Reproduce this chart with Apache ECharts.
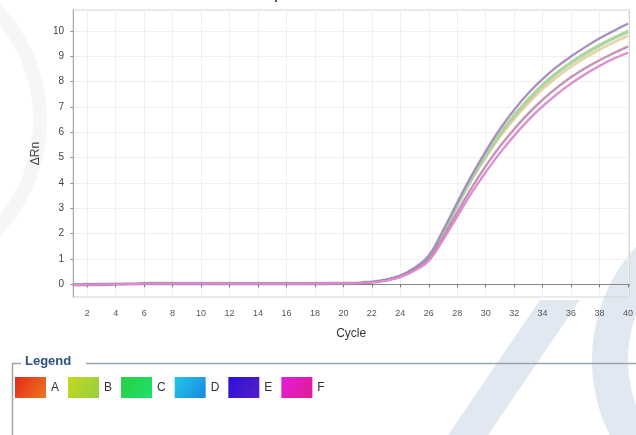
<!DOCTYPE html>
<html>
<head>
<meta charset="utf-8">
<script src="https://cdn.jsdelivr.net/npm/echarts@6/dist/echarts.min.js"></script>
<style>
html,body{margin:0;padding:0;background:#fff;}
#chart{width:636px;height:435px;}
</style>
</head>
<body>
<div id="chart"></div>
<script>
// ---- data ----
var cycles = [];
for (var i = 1; i <= 40; i++) cycles.push(i);
var seriesNames = ['A', 'B', 'C', 'D', 'E', 'F'];
var valuesA = [-0.04,-0.02,0.00,0.01,0.02,0.04,0.04,0.03,0.02,0.02,0.02,0.02,0.02,0.02,0.02,0.02,0.02,0.02,0.03,0.03,
  0.05,0.09,0.17,0.33,0.62,1.08,2.02,3.10,4.12,5.00,5.82,6.52,7.15,7.70,8.17,8.58,8.94,9.26,9.54,9.80];
var valuesB = [-0.02,-0.01,0.00,0.01,0.01,0.02,0.02,0.02,0.02,0.02,0.02,0.02,0.02,0.02,0.02,0.02,0.02,0.02,0.03,0.03,
  0.05,0.09,0.17,0.33,0.63,1.10,2.05,3.15,4.18,5.10,5.95,6.68,7.32,7.88,8.36,8.77,9.13,9.45,9.74,10.00];
var valuesC = [-0.02,-0.01,0.00,0.01,0.01,0.02,0.02,0.02,0.02,0.02,0.02,0.02,0.02,0.02,0.02,0.02,0.02,0.02,0.03,0.03,
  0.05,0.09,0.17,0.32,0.61,1.07,2.00,3.10,4.13,5.06,5.90,6.63,7.27,7.83,8.31,8.72,9.08,9.40,9.69,9.94];
var valuesD = [-0.02,-0.01,0.00,0.01,0.01,0.02,0.02,0.02,0.02,0.02,0.02,0.02,0.02,0.02,0.02,0.02,0.02,0.02,0.03,0.03,
  0.04,0.08,0.16,0.31,0.57,0.98,1.85,2.84,3.80,4.66,5.44,6.12,6.74,7.28,7.75,8.17,8.53,8.84,9.12,9.38];
var valuesE = [-0.02,-0.01,0.00,0.01,0.01,0.02,0.02,0.02,0.02,0.02,0.02,0.02,0.02,0.02,0.02,0.02,0.02,0.02,0.03,0.03,
  0.05,0.09,0.18,0.34,0.65,1.13,2.12,3.22,4.28,5.25,6.12,6.88,7.54,8.10,8.58,8.99,9.36,9.70,10.00,10.28];
var valuesF = [-0.03,-0.02,0.00,0.00,0.01,0.02,0.02,0.03,0.03,0.03,0.03,0.02,0.02,0.02,0.02,0.02,0.02,0.03,0.04,0.04,
  0.04,0.08,0.15,0.29,0.54,0.93,1.75,2.68,3.60,4.42,5.18,5.86,6.48,7.02,7.50,7.92,8.29,8.62,8.90,9.14];
var allValues = [valuesA, valuesB, valuesC, valuesD, valuesE, valuesF];
var xTicks = [2,4,6,8,10,12,14,16,18,20,22,24,26,28,30,32,34,36,38,40];
var yTicks = [0,1,2,3,4,5,6,7,8,9,10];

// ---- styles ----
var lineColors = ['#ecd49a', '#b8e690', '#a6dca4', '#c890b4', '#a88cc0', '#e488d8'];
var legendGrad = [
  ['#e8281c', '#e8781c'],
  ['#c8d81c', '#90d040'],
  ['#28d040', '#20e070'],
  ['#20c8e8', '#1c88e0'],
  ['#2c10d8', '#5420c8'],
  ['#e41ce0', '#e01c90']
];
function grad(c) {
  return { type: 'linear', x: 0, y: 0, x2: 1, y2: 1,
    colorStops: [{ offset: 0, color: c[0] }, { offset: 1, color: c[1] }] };
}

var series = seriesNames.map(function (n, k) {
  return {
    name: n,
    type: 'line',
    smooth: 0.4,
    showSymbol: false,
    data: cycles.map(function (c, j) { return [c, allValues[k][j]]; }),
    lineStyle: { width: 2, color: lineColors[k], shadowColor: 'rgba(90,70,90,0.35)', shadowBlur: 1 },
    itemStyle: { color: lineColors[k] },
    z: 3
  };
});

var FONT = 'Arial, "Liberation Sans", sans-serif';
var chart = echarts.init(document.getElementById('chart'), null, { renderer: 'canvas' });
chart.setOption({
  backgroundColor: '#ffffff',
  animation: false,
  title: {
    text: 'Amplification Plot',
    left: 306, textAlign: 'center',
    top: -17,
    textStyle: { fontFamily: FONT, fontSize: 14, fontWeight: 'bold', color: '#555' }
  },
  graphic: [
    { type: 'arc', silent: true, z: -10, shape: { cx: 760, cy: 360, r: 150, startAngle: Math.PI * 0.55, endAngle: Math.PI * 1.45 },
      style: { stroke: '#e2e8f2', lineWidth: 36, fill: null } },
    { type: 'polygon', silent: true, z: -10, shape: { points: [[540, 300], [580, 300], [488, 435], [448, 435]] },
      style: { fill: '#e2e8f2' } },
    { type: 'arc', silent: true, z: -10, shape: { cx: -120, cy: 120, r: 160, startAngle: -Math.PI * 0.35, endAngle: Math.PI * 0.45 },
      style: { stroke: '#f5f6f8', lineWidth: 14, fill: null } },
    { type: 'line', silent: true, shape: { x1: 12, y1: 363.5, x2: 21, y2: 363.5 }, style: { stroke: '#98a4ae', lineWidth: 1.5 } },
    { type: 'line', silent: true, shape: { x1: 86, y1: 363.5, x2: 636, y2: 363.5 }, style: { stroke: '#98a4ae', lineWidth: 1.5 } },
    { type: 'line', silent: true, shape: { x1: 12.5, y1: 363, x2: 12.5, y2: 435 }, style: { stroke: '#98a4ae', lineWidth: 1.5 } },
    { type: 'text', silent: true, left: 25, top: 355,
      style: { text: 'Legend', font: 'bold 13px ' + FONT, fill: '#2d4f86' } }
  ],
  legend: {
    left: 10, top: 372,
    icon: 'rect',
    itemWidth: 31, itemHeight: 21, itemGap: 9,
    textStyle: { fontFamily: FONT, fontSize: 12, color: '#333' },
    data: seriesNames.map(function (n, k) { return { name: n, itemStyle: { color: grad(legendGrad[k]), borderWidth: 0 } }; }),
    selectedMode: false
  },
  grid: { left: 73, right: 4, top: 10, bottom: 138, show: true, borderColor: '#d4d4d4', borderWidth: 1 },
  xAxis: {
    type: 'value', min: 1, max: 40.1,
    name: 'Cycle', nameLocation: 'middle', nameGap: 31,
    nameTextStyle: { fontFamily: FONT, fontSize: 12, color: '#333' },
    axisLine: { show: true, lineStyle: { color: '#888', width: 1 } },
    axisTick: { show: true, customValues: xTicks, length: 3, lineStyle: { color: '#777' } },
    axisLabel: { customValues: xTicks, fontFamily: FONT, fontSize: 9, color: '#555', margin: 12 },
    splitLine: { show: true, lineStyle: { color: '#efefef', width: 1 } }
  },
  yAxis: {
    type: 'value', min: -0.5, max: 10.82,
    name: 'ΔRn', nameLocation: 'middle', nameGap: 30, nameRotate: 90,
    nameTextStyle: { fontFamily: FONT, fontSize: 12, color: '#444' },
    axisLine: { show: true, lineStyle: { color: '#aaa', width: 1 } },
    axisTick: { show: true, customValues: yTicks, length: 3, lineStyle: { color: '#999' } },
    axisLabel: { customValues: yTicks, fontFamily: FONT, fontSize: 10, color: '#444', margin: 9 },
    splitLine: { show: true, lineStyle: { color: '#efefef', width: 1 } }
  },
  series: series
});
</script>
</body>
</html>
